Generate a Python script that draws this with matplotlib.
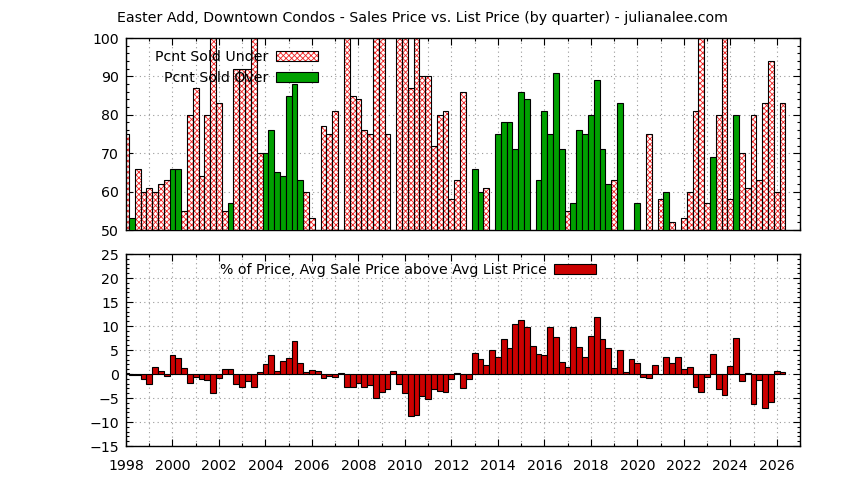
import numpy as np
import matplotlib.pyplot as plt
from matplotlib.patches import Patch
from matplotlib.ticker import MultipleLocator

plt.rcParams['font.family'] = ['DejaVu Sans']
plt.rcParams['hatch.linewidth'] = 0.6

# quarterly data, starting 1998 Q1
start_year = 1998
# percent of sales sold under list price (None = below 50, not visible)
pct_under = [75, None, 66, 60, 61, 60, 62, 63, None, None,
             55, 80, 87, 64, 80, 100, 83, 55, None, 92,
             92, 92, 100, 70, None, None, None, None, None, None,
             None, 60, 53, None, 77, 75, 81, None, 100, 85,
             84, 76, 75, 100, 100, 75, None, 100, 100, 87,
             100, 90, 90, 72, 80, 81, 58, 63, 86, None,
             None, None, 61, None, None, None, None, None, None, None,
             None, None, None, None, None, None, 55, None, None, None,
             None, None, None, None, 63, None, None, None, None, None,
             75, None, 58, None, 52, None, 53, 60, 81, 100,
             57, None, 80, 100, 58, None, 70, 61, 80, 63,
             83, 94, 60, 83]
# percent of sales sold over list price
pct_over = [None, 53, None, None, None, None, None, None, 66, 66,
            None, None, None, None, None, None, None, None, 57, None,
            None, None, None, None, 70, 76, 65, 64, 85, 88,
            63, None, None, None, None, None, None, None, None, None,
            None, None, None, None, None, None, None, None, None, None,
            None, None, None, None, None, None, None, None, None, None,
            66, 60, None, None, 75, 78, 78, 71, 86, 84,
            None, 63, 81, 75, 91, 71, None, 57, 76, 75,
            80, 89, 71, 62, None, 83, None, None, 57, None,
            None, None, None, 60, None, None, None, None, None, None,
            None, 69, None, None, None, 80, None, None, None, None,
            None, None, None, None]
# avg sale price above avg list price, %
pct_above = [0.2, -0.2, -0.2, -1.0, -2.1, 1.5, 0.6, -0.4, 3.9, 3.3,
             1.25, -1.9, -0.6, -1.0, -1.25, -3.9, -0.8, 1.0, 1.0, -2.1,
             -2.7, -1.5, -2.7, 0.4, 2.1, 4.0, 0.6, 2.7, 3.3, 6.9,
             2.3, 0.4, 0.8, 0.6, -0.8, -0.4, -0.6, 0.2, -2.7, -2.7,
             -1.8, -2.7, -2.3, -5.0, -3.75, -3.1, 0.6, -2.1, -4.0, -8.75,
             -8.5, -4.6, -5.2, -3.1, -3.5, -3.75, -1.0, 0.2, -2.9, -1.0,
             4.4, 3.1, 1.9, 5.0, 3.5, 7.3, 5.4, 10.4, 11.25, 9.8,
             5.8, 4.2, 4.0, 9.8, 7.7, 2.5, 1.5, 9.8, 5.6, 3.5,
             7.9, 11.9, 7.3, 5.4, 1.25, 5.0, 0.4, 3.1, 2.3, -0.6,
             -0.8, 1.9, 0.1, 3.5, 2.3, 3.5, 1.0, 1.5, -2.7, -3.75,
             -0.6, 4.2, -3.1, -4.4, 1.7, 7.5, -1.5, 0.2, -6.25, -1.25,
             -7.1, -5.8, 0.6, 0.4]

title = 'Easter Add, Downtown Condos - Sales Price vs. List Price (by quarter) - julianalee.com'

quarters = start_year + 0.25 * np.arange(len(pct_above))
under = np.array(pct_under, dtype=float)
over = np.array(pct_over, dtype=float)
above = np.array(pct_above, dtype=float)

RED = '#cc0000'
GREEN = '#00a000'
HATCH_RED = '#ee2222'
w = 0.25
fs = 10.2
lw = 0.8

fig = plt.figure(figsize=(8.44, 4.8), dpi=100)
ax1 = fig.add_axes([126/844, 1 - 230/480, 674/844, 192/480])
ax2 = fig.add_axes([126/844, 1 - 446/480, 674/844, 192/480])

m = ~np.isnan(under)
ax1.bar(quarters[m], under[m], width=w, color='white', edgecolor=HATCH_RED,
        hatch='xxxxxx', linewidth=0, zorder=2)
ax1.bar(quarters[m], under[m], width=w, color='none', edgecolor='black',
        linewidth=lw, zorder=3)
m = ~np.isnan(over)
ax1.bar(quarters[m], over[m], width=w, color=GREEN, edgecolor='black',
        linewidth=lw, zorder=3)

ax2.bar(quarters, above, width=w, color=RED, edgecolor='black',
        linewidth=lw, zorder=3)

for ax in (ax1, ax2):
    ax.set_xlim(1998, 2027)
    ax.xaxis.set_major_locator(MultipleLocator(2))
    ax.xaxis.set_minor_locator(MultipleLocator(1))
    ax.grid(True, which='both', axis='x', color='#999999',
            linestyle=(0, (1, 3)), linewidth=0.8, zorder=0)
    ax.grid(True, which='major', axis='y', color='#999999',
            linestyle=(0, (1, 3)), linewidth=0.8, zorder=0)
    ax.tick_params(which='both', direction='in', top=True, right=True,
                   labelsize=fs, colors='black')
    ax.tick_params(which='major', length=5, width=0.8)
    ax.tick_params(which='minor', length=2.5, width=0.8)
    ax.tick_params(axis='y', pad=5)
    for s in ax.spines.values():
        s.set_linewidth(1.0)
    ax.set_axisbelow(True)

ax1.set_ylim(50, 100)
ax1.yaxis.set_major_locator(MultipleLocator(10))
ax1.yaxis.set_minor_locator(MultipleLocator(2))
ax1.tick_params(axis='x', labelbottom=False)

ax2.set_ylim(-15, 25)
ax2.yaxis.set_major_locator(MultipleLocator(5))
ax2.yaxis.set_minor_locator(MultipleLocator(1))
ax2.tick_params(axis='x', pad=9)

fig.text(0.5, 1 - 18/480, title, ha='center', va='center', fontsize=fs)

h_under = (Patch(facecolor='white', edgecolor=HATCH_RED, hatch='xxxxxx', linewidth=0),
           Patch(facecolor='none', edgecolor='black', linewidth=lw))
h_over = Patch(facecolor=GREEN, edgecolor='black', linewidth=lw)
leg1 = ax1.legend([h_under, h_over], ['Pcnt Sold Under', 'Pcnt Sold Over'],
                  loc='upper right', bbox_to_anchor=((318 - 126) / 674, (230 - 50) / 192),
                  frameon=False, markerfirst=False, fontsize=fs,
                  handlelength=3.0, handleheight=0.75, handletextpad=0.5,
                  labelspacing=0.5, borderpad=0, borderaxespad=0)
leg1.set_zorder(5)

h_above = Patch(facecolor=RED, edgecolor='black', linewidth=lw)
leg2 = ax2.legend([h_above], ['% of Price, Avg Sale Price above Avg List Price'],
                  loc='upper right', bbox_to_anchor=((596 - 126) / 674, (446 - 263) / 192),
                  frameon=False, markerfirst=False, fontsize=fs,
                  handlelength=3.0, handleheight=0.75, handletextpad=0.5,
                  borderpad=0, borderaxespad=0)
leg2.set_zorder(5)

fig.savefig('out.png', dpi=100)
